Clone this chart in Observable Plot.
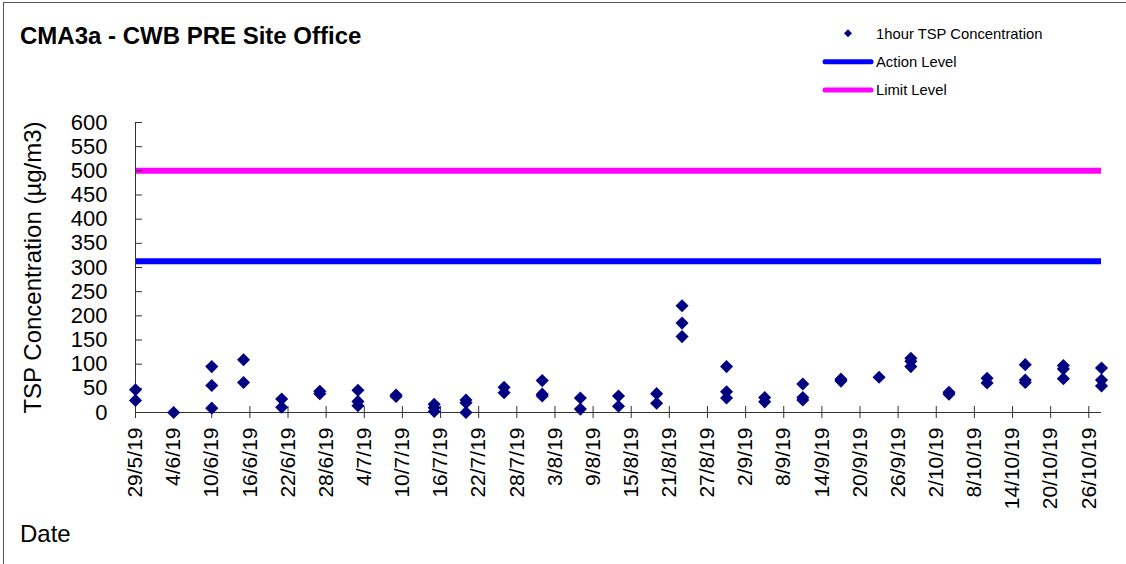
<!DOCTYPE html>
<html>
<head>
<meta charset="utf-8">
<script src="https://cdn.jsdelivr.net/npm/d3@7"></script>
<script src="https://cdn.jsdelivr.net/npm/@observablehq/plot@0.6"></script>
<style>
  html, body { margin: 0; padding: 0; background: #fff; }
  #wrap { position: relative; width: 1126px; height: 564px; overflow: hidden; font-family: "Liberation Sans", Arial, sans-serif; }
  #wrap > svg { position: absolute; left: 0; top: 0; }
</style>
</head>
<body>
<div id="wrap"></div>
<script>
// ---- data ----
const title = "CMA3a - CWB PRE Site Office";
const yLabel = "TSP Concentration (µg/m3)";
const xLabel = "Date";
const seriesName = "1hour TSP Concentration";
const actionName = "Action Level";
const limitName = "Limit Level";

const sampleDates = [
  "2019-05-29", "2019-06-04", "2019-06-10", "2019-06-15", "2019-06-21", "2019-06-27",
  "2019-07-03", "2019-07-09", "2019-07-15", "2019-07-20", "2019-07-26", "2019-08-01",
  "2019-08-07", "2019-08-13", "2019-08-19", "2019-08-23", "2019-08-30", "2019-09-05",
  "2019-09-11", "2019-09-17", "2019-09-23", "2019-09-28", "2019-10-04", "2019-10-10",
  "2019-10-16", "2019-10-22", "2019-10-28"
];
const tspValues = [
  [47, 25], [0], [95, 56, 9], [109, 62], [28, 11], [44, 39],
  [46, 23, 14], [36, 33], [17, 10, 2], [26, 20, 0], [52, 41], [66, 38, 34],
  [30, 7], [34, 13], [39, 19], [221, 185, 157], [95, 43, 30], [31, 22],
  [59, 31, 26], [69, 65], [73], [112, 106, 95], [42, 38], [71, 61],
  [99, 67, 62], [97, 90, 70], [92, 67, 55]
];
const actionLevel = 313;
const limitLevel = 500;

const xTickLabels = [
  "29/5/19", "4/6/19", "10/6/19", "16/6/19", "22/6/19", "28/6/19", "4/7/19", "10/7/19",
  "16/7/19", "22/7/19", "28/7/19", "3/8/19", "9/8/19", "15/8/19", "21/8/19", "27/8/19",
  "2/9/19", "8/9/19", "14/9/19", "20/9/19", "26/9/19", "2/10/19", "8/10/19", "14/10/19",
  "20/10/19", "26/10/19"
];
const xDomain = ["2019-05-29", "2019-10-28"];
const yTicks = [0, 50, 100, 150, 200, 250, 300, 350, 400, 450, 500, 550, 600];

// ---- build ----
const parseTick = d3.utcParse("%d/%m/%y");
const fmtTick = d3.utcFormat("%-d/%-m/%y");
const xTicks = xTickLabels.map(parseTick);
const points = sampleDates.flatMap((d, i) => tspValues[i].map(v => ({date: new Date(d), value: v})));
const x0 = new Date(xDomain[0]);

const font = '"Liberation Sans", Arial, sans-serif';
const axisColor = "#333";

const chart = Plot.plot({
  width: 1126,
  height: 564,
  marginLeft: 135,
  marginRight: 25,
  marginTop: 122,
  marginBottom: 152,
  style: {fontFamily: font, color: "#000", background: "transparent", overflow: "visible"},
  x: {type: "utc", domain: xDomain.map(d => new Date(d))},
  y: {domain: [0, 600]},
  marks: [
    Plot.ruleY([limitLevel], {stroke: "#FF00FF", strokeWidth: 6}),
    Plot.ruleY([actionLevel], {stroke: "#0000FF", strokeWidth: 6}),
    Plot.ruleY([0], {stroke: axisColor, strokeWidth: 1}),
    Plot.ruleX([x0], {stroke: axisColor, strokeWidth: 1}),
    // y ticks (inside) and labels
    Plot.axisY(yTicks, {tickSize: 7, dx: 7, tickFormat: () => "", label: null, stroke: axisColor}),
    Plot.axisY(yTicks, {tickSize: 0, tickPadding: 28, fontSize: 22, label: null, fill: "#000"}),
    // x ticks (crossing) and rotated labels
    Plot.axisX(xTicks, {tickSize: 12, dy: -6, tickFormat: () => "", label: null, stroke: axisColor}),
    Plot.axisX(xTicks, {tickSize: 0, tickPadding: 15, tickRotate: -90, fontSize: 21, tickFormat: fmtTick, label: null, fill: "#000"}),
    // y-axis title
    Plot.text([yLabel], {frameAnchor: "left", textAnchor: "middle", lineAnchor: "middle", rotate: -90, dx: -102, fontSize: 24, fill: "#000"}),
    Plot.dot(points, {x: "date", y: "value", symbol: "diamond2", r: 5.9, fill: "#000080", stroke: "none"})
  ]
});
document.getElementById("wrap").appendChild(chart);

// ---- overlay: frame, title, legend, x label ----
const ov = d3.select("#wrap").append("svg")
  .attr("width", 1126).attr("height", 564)
  .style("font-family", font);
ov.append("line").attr("x1", 3.5).attr("x2", 3.5).attr("y1", 2).attr("y2", 564).attr("stroke", "#555");
ov.append("line").attr("x1", 3).attr("x2", 1126).attr("y1", 2.5).attr("y2", 2.5).attr("stroke", "#555");

ov.append("text").attr("x", 20).attr("y", 43.5).attr("font-size", 24).attr("font-weight", "bold")
  .attr("fill", "#000").text(title);
ov.append("text").attr("x", 20).attr("y", 542).attr("font-size", 24).attr("fill", "#000").text(xLabel);

// legend
const lg = ov.append("g").attr("font-size", 14.8).attr("fill", "#000");
lg.append("path").attr("d", "M848,29.3L852,33.3L848,37.3L844,33.3Z").attr("fill", "#000080");
lg.append("text").attr("x", 876).attr("y", 38.5).text(seriesName);
lg.append("line").attr("x1", 825).attr("x2", 871).attr("y1", 61.7).attr("y2", 61.7)
  .attr("stroke", "#0000FF").attr("stroke-width", 5).attr("stroke-linecap", "round");
lg.append("text").attr("x", 876).attr("y", 66.5).text(actionName);
lg.append("line").attr("x1", 825).attr("x2", 871).attr("y1", 90).attr("y2", 90)
  .attr("stroke", "#FF00FF").attr("stroke-width", 5).attr("stroke-linecap", "round");
lg.append("text").attr("x", 876).attr("y", 95).text(limitName);
</script>
</body>
</html>
